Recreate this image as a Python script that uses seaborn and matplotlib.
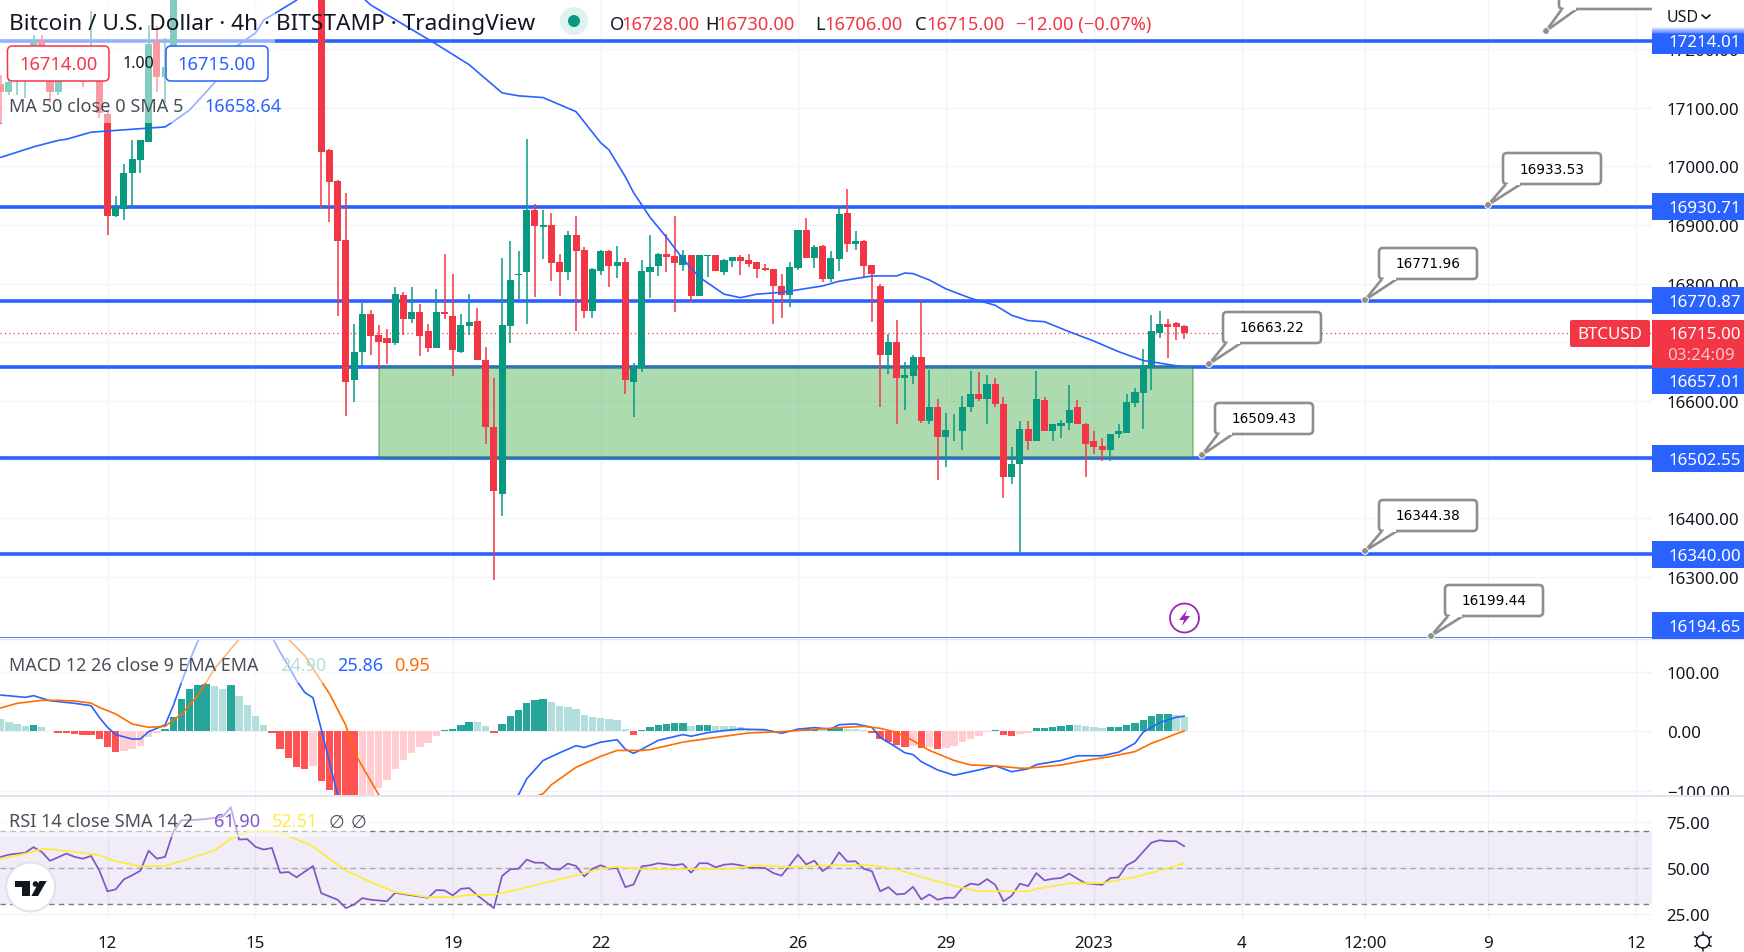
import numpy as np
import matplotlib
matplotlib.use("Agg")
import matplotlib.pyplot as plt
import seaborn as sns
from matplotlib.patches import Rectangle, FancyBboxPatch, Polygon, Circle

# bars are counted in 4h steps from Dec 12 00:00, bars 9-25 are above the visible range
bar_idx = list(range(-13, 9)) + list(range(26, 132))

opens = [17140, 17127, 17152, 17152, 17181, 17213, 17178, 17127, 17170, 17155, 17175, 17150, 17181,
         17089, 16915, 16927, 16988, 17011, 17042, 17213, 17152, 17205,
         17340, 17027, 16974, 16874, 16635, 16684, 16748, 16712, 16707, 16699,
         16780, 16740, 16752, 16719, 16691, 16752, 16745, 16684, 16728, 16736,
         16670, 16556, 16441, 16728, 16814, 16819, 16926, 16897, 16899, 16836,
         16819, 16882, 16857, 16753, 16821, 16855, 16830, 16836, 16633, 16656,
         16819, 16830, 16850, 16847, 16831, 16848, 16779, 16847, 16848, 16819,
         16838, 16845, 16840, 16836, 16826, 16825, 16796, 16780, 16826, 16892,
         16843, 16864, 16808, 16842, 16921, 16867, 16872, 16831, 16796, 16678,
         16701, 16639, 16643, 16675, 16566, 16589, 16539, 16548, 16549, 16589,
         16612, 16604, 16629, 16594, 16471, 16492, 16553, 16532, 16602, 16548,
         16558, 16563, 16589, 16561, 16531, 16524, 16517, 16543, 16546, 16597,
         16614, 16660, 16716, 16731, 16733, 16728]
highs = [17156, 17152, 17181, 17190, 17224, 17224, 17190, 17190, 17180, 17175, 17190, 17264, 17190,
         17095, 16950, 17003, 17044, 17044, 17241, 17239, 17218, 17400,
         17400, 17030, 16977, 16955, 16731, 16767, 16755, 16729, 16723, 16794,
         16785, 16794, 16765, 16731, 16791, 16850, 16816, 16748, 16782, 16758,
         16692, 16639, 16843, 16872, 16855, 17047, 16935, 16925, 16920, 16850,
         16889, 16916, 16862, 16826, 16857, 16857, 16864, 16843, 16665, 16840,
         16882, 16852, 16884, 16916, 16858, 16848, 16848, 16848, 16848, 16842,
         16845, 16848, 16850, 16836, 16833, 16825, 16816, 16836, 16891, 16911,
         16865, 16865, 16855, 16933, 16962, 16889, 16874, 16831, 16799, 16714,
         16738, 16667, 16678, 16772, 16653, 16604, 16580, 16577, 16609, 16651,
         16650, 16645, 16639, 16606, 16522, 16566, 16566, 16651, 16607, 16560,
         16568, 16628, 16602, 16563, 16548, 16536, 16544, 16561, 16612, 16622,
         16689, 16746, 16753, 16740, 16735, 16730]
lows = [17072, 17122, 17122, 17117, 17169, 17169, 17110, 17122, 17150, 17145, 17135, 17145, 17083,
        16882, 16913, 16909, 16928, 16989, 17042, 17127, 17108, 17205,
        16929, 16905, 16744, 16574, 16598, 16660, 16679, 16655, 16663, 16696,
        16713, 16732, 16677, 16684, 16691, 16740, 16642, 16681, 16713, 16669,
        16526, 16295, 16404, 16699, 16774, 16731, 16777, 16842, 16804, 16779,
        16806, 16719, 16741, 16741, 16814, 16794, 16809, 16612, 16572, 16650,
        16775, 16813, 16819, 16752, 16821, 16768, 16779, 16811, 16821, 16814,
        16828, 16814, 16828, 16809, 16821, 16731, 16741, 16760, 16823, 16843,
        16826, 16802, 16802, 16821, 16853, 16858, 16811, 16735, 16589, 16646,
        16560, 16585, 16629, 16563, 16560, 16466, 16487, 16532, 16517, 16582,
        16600, 16560, 16590, 16434, 16458, 16341, 16516, 16532, 16548, 16532,
        16536, 16551, 16560, 16471, 16509, 16497, 16498, 16536, 16546, 16590,
        16553, 16619, 16707, 16673, 16704, 16706]
closes = [17127, 17144, 17169, 17181, 17213, 17181, 17127, 17170, 17155, 17165, 17150, 17195, 17091,
          16915, 16928, 16989, 17013, 17044, 17208, 17152, 17169, 17340,
          17025, 16973, 16873, 16633, 16684, 16748, 16711, 16701, 16699, 16782,
          16740, 16752, 16711, 16691, 16752, 16749, 16686, 16729, 16735, 16669,
          16556, 16446, 16729, 16806, 16816, 16926, 16898, 16899, 16835, 16819,
          16882, 16855, 16753, 16825, 16855, 16830, 16836, 16635, 16658, 16821,
          16828, 16850, 16845, 16835, 16848, 16779, 16848, 16848, 16821, 16840,
          16845, 16838, 16833, 16825, 16823, 16796, 16780, 16828, 16891, 16843,
          16862, 16808, 16843, 16918, 16867, 16872, 16830, 16816, 16678, 16701,
          16639, 16645, 16675, 16565, 16590, 16539, 16551, 16549, 16590, 16612,
          16604, 16629, 16594, 16470, 16493, 16553, 16532, 16604, 16548, 16560,
          16563, 16585, 16560, 16527, 16521, 16517, 16544, 16548, 16599, 16616,
          16661, 16719, 16731, 16726, 16726, 16715]

ma_bar = [-13, -9, -6, -5, -2, -1, 3, 7, 8, 10, 13, 15, 18, 19, 23, 27, 32, 40, 44, 48, 50, 53, 57, 60, 61,
          63, 64, 66, 68, 70, 72, 75, 77, 79, 82, 87, 89, 93, 96, 97, 98, 100, 102, 105, 108, 110, 112,
          114, 117, 120, 123, 126, 130, 131]
ma_val = [17015, 17033, 17044, 17046, 17058, 17059, 17063, 17067, 17076, 17096, 17142, 17198, 17227, 17249,
          17283, 17340, 17275, 17208, 17173, 17125, 17120, 17117, 17093, 17040, 17028,
          16982, 16955, 16913, 16879, 16842, 16811, 16782, 16776, 16782, 16785, 16796, 16804, 16813, 16813,
          16818, 16817, 16806, 16791, 16775, 16763, 16746, 16737, 16735, 16718, 16702, 16684, 16669, 16660,
          16658.64]

levels = [17214.01, 16930.71, 16770.87, 16657.01, 16502.55, 16340.00, 16194.65]
price_ticks = [16300, 16400, 16500, 16600, 16700, 16800, 16900, 17000, 17100, 17200]
# 16500 and 16700 sit fully behind the price tags
price_labels = ["16300.00", "16400.00", "", "16600.00", "", "16800.00", "16900.00", "17000.00", "17100.00", "17200.00"]
last_price = 16715.00

# one bar per step from -13 to 131
macd_hist = [21, 15.5, 12.7, 8.7, 11, 7, 1, -3, -3, -4, -6, -6, -13,
             -26, -35, -33, -30, -25, -10, -3, 4, 24, 55,
             72, 79, 81, 77, 72, 79, 60, 45, 26, 11,
             -3, -30, -45, -60, -63, -58, -84, -99, -115, -125,
             -130, -128, -112, -95, -82, -63, -48, -36, -26, -19,
             -8, 2.5, 4, 11, 16, 15.5, 9, -3, 13, 26,
             36, 48, 53, 55, 50, 43, 41, 38, 28, 24,
             23, 21, 19, 4, -6, 2.5, 8, 11, 13, 14,
             14, 9, 11, 11, 10, 9.5, 9, 8, 4, 3,
             2.5, 1.5, 1.2, 1, 3, 4, 5, 2, 5, 8,
             5, 4, 2.5, -3, -13, -18, -23, -26, -24, -28,
             -27, -30, -28, -24, -18, -13, -8, -1, 2.5, -6,
             -8, -4, -3, 6, 6, 8, 9, 11, 10.5, 9,
             8, 6, 8, 8, 11, 14, 19, 26, 30, 30, 28, 24.9]

macd_bar = [-13, -10, -9, -7, -4, -2, -1, 0, 1, 3, 4, 5, 7, 8, 9, 10, 11, 12, 13, 15, 18, 20, 21, 22, 23, 24,
            25, 26, 27, 28, 30, 35, 45, 48, 49, 50, 51, 53, 55, 57, 58, 60, 62, 63, 64, 65, 67, 70, 71, 73,
            75, 77, 80, 82, 84, 86, 88, 89, 91, 93, 94, 96, 97, 98, 99, 101, 103, 106, 108, 110, 112, 113,
            116, 118, 121, 123, 125, 126, 128, 130, 131]
macd_val = [61.6, 57.7, 60.5, 52, 47.6, 43.6, 23.9, 7, -5.3, -12.7, -12.7, -0.3, 11, 43.6, 83, 120, 153, 170,
            190, 210, 195, 160, 134, 111, 86, 66, 57, 4, -52, -107, -150, -200, -190, -130, -118, -107, -80,
            -49, -36, -24, -27, -18, -14, -30, -37, -30, -15, -5.3, -8, -2, 1.4, 4, 3, -3, 4, 6.5, 4, 11.5,
            12.7, 7, -10, -27, -36, -39, -51, -65, -74, -65, -58, -68, -63, -56, -49, -41, -41, -35, -20, -1,
            15, 24, 25.86]
signal_bar = [-13, -11, -8, -6, -4, -2, -1, 1, 3, 5, 7, 9, 11, 13, 16, 18, 20, 22, 24, 26, 27, 29, 30, 33, 34,
              40, 48, 50, 52, 53, 54, 57, 60, 62, 65, 66, 70, 74, 78, 82, 85, 89, 92, 94, 96, 98, 100, 103,
              105, 108, 111, 112, 116, 119, 122, 125, 127, 128, 130, 131]
signal_val = [39.7, 47.6, 52.6, 52.6, 51.5, 48, 40.8, 29.6, 12.7, 7, 8.7, 29.6, 60.5, 105.6, 156, 175, 180, 156,
              128, 85, 64, 10, -35, -107, -125, -180, -150, -125, -110, -105, -90, -60.5, -42, -32, -32, -30.7,
              -18, -10, -2.5, -0.3, 2.5, 6.5, 8.7, 5.4, -1.4, -15.5, -32, -49, -56.6, -58, -62, -62, -56.6,
              -49, -42.5, -34, -20, -15, -4, 0.95]

rsi_bar = [-13, -12, -10, -9, -8, -7, -5, -4, -3, -2, -1, 0, 1, 2, 3, 4, 5, 6, 7, 8, 9, 10, 12, 14, 15, 16, 17,
           18, 19, 20, 21, 22, 23, 25, 26, 28, 29, 30, 31, 32, 34, 35, 37, 39, 40, 41, 42, 43, 44, 45, 47, 48,
           49, 50, 51, 52, 53, 54, 55, 56, 57, 58, 59, 60, 61, 62, 63, 64, 65, 66, 67, 69, 70, 71, 72, 73, 74,
           75, 76, 77, 78, 80, 81, 82, 84, 85, 86, 87, 88, 89, 90, 91, 92, 93, 94, 95, 96, 97, 98, 99, 100,
           101, 102, 103, 104, 105, 106, 107, 108, 109, 110, 111, 112, 113, 114, 115, 116, 117, 118, 119, 121,
           122, 123, 124, 125, 127, 128, 129, 130, 131]
rsi_val = [56.1, 57.3, 58.4, 61.4, 58.8, 53.9, 57.9, 56.1, 55.1, 56.6, 48.7, 37.2, 38.3, 43.8, 46, 48.5, 59.5,
           55.1, 56.1, 69.8, 76.2, 76.2, 76.8, 78.1, 83.2, 65.6, 65.8, 61.6, 60.1, 61, 47.4, 47.8, 44.9, 51.1,
           36.2, 32.6, 28, 30, 33.5, 32.6, 31.8, 36.4, 35, 33.7, 37.9, 37.7, 35, 38.6, 39, 35, 28, 45.6, 49.3,
           49.6, 54.6, 52.9, 52.9, 49.6, 49.1, 52.4, 51.1, 45.4, 49.6, 51.5, 49.6, 50, 39.5, 41, 50.9, 51.5,
           52.6, 51.5, 52.2, 47.4, 52.6, 52.6, 50.4, 51.8, 52.2, 51.5, 50.2, 50, 47.2, 45.8, 57.3, 52, 54, 48.3,
           51.5, 58.6, 53.5, 53.7, 49.6, 48.2, 37.2, 39.5, 35.5, 35.9, 39.7, 32.8, 35.5, 32.6, 33.7, 33.7, 39,
           41.4, 40.8, 43.9, 40.8, 31.8, 34.8, 41.4, 40.1, 47.2, 43.2, 44.1, 44.5, 46.9, 44.1, 41.6, 40.8, 44.5,
           44.9, 51.5, 53.9, 63.9, 65.2, 64.7, 64.7, 61.9]
rsima_bar = [-13, -10, -8, -7, -4, -1, 1, 4, 7, 10, 13, 15, 17, 20, 22, 25, 27, 29, 32, 35, 39, 42, 44, 47, 49,
             53, 55, 57, 60, 62, 65, 69, 76, 79, 83, 88, 93, 96, 100, 103, 106, 109, 112, 113, 117, 121, 125,
             128, 131]
rsima_val = [55.1, 57.9, 60.3, 60.3, 58.8, 57, 53.7, 50.9, 51.1, 55.1, 59.7, 66.1, 69.8, 70.2, 67.6, 61.9, 55.1,
             48.7, 42.3, 36.8, 34, 34, 35.3, 35.3, 37.3, 41.7, 43.8, 46, 49.6, 50.6, 49.3, 49.3, 49.6, 51.5, 50.6,
             51.5, 51.5, 49.3, 43.8, 40.1, 37.3, 37.3, 37.3, 38.6, 41.6, 41.7, 45, 48.7, 52.51]

time_ticks = [0, 18, 42, 60, 84, 102, 120, 138, 153, 168, 186]
time_labels = ["12", "15", "19", "22", "26", "29", "2023", "4", "12:00", "9", "12"]

# name, anchor x/y, box left/top in image pixels
callouts = [("16933.53", 1488, 206, 1503, 154), ("16771.96", 1365, 301, 1379, 249),
            ("16663.22", 1209, 365, 1223, 313), ("16509.43", 1202, 456, 1215, 404),
            ("16344.38", 1365, 552, 1379, 501), ("16199.44", 1431, 637, 1445, 586)]
# text, centre y, top, bottom
level_tags = [("16930.71", 207.5, 194, 221), ("16770.87", 301.5, 288, 315), ("16657.01", 382, 369, 395),
              ("16502.55", 459.5, 446, 473), ("16340.00", 555.5, 542, 569), ("16194.65", 627, 613, 640)]

RED = "#f23645"
GREEN = "#089981"
BLUE = "#2962ff"
GRID = "#f0f3fa"
TEXT = "#131722"
W, H = 1744, 953

sns.set_theme(style="white")
plt.rcParams["font.family"] = ["Noto Sans", "DejaVu Sans"]
plt.rcParams["axes.unicode_minus"] = True

fig = plt.figure(figsize=(W / 100, H / 100), dpi=100)


def pane(top, bottom):
    a = fig.add_axes([0, 1 - bottom / H, 1652 / W, (bottom - top) / H])
    a.set_xlim(-13.08, 187.9)
    for s in a.spines.values():
        s.set_visible(False)
    a.yaxis.tick_right()
    a.set_xticks(time_ticks)
    a.grid(True, color=GRID, linewidth=1.0)
    a.set_axisbelow(True)
    a.tick_params(axis="y", length=0, pad=10.6, labelsize=12.2, labelcolor=TEXT)
    a.tick_params(axis="x", length=0, labelbottom=False)
    return a


ax = pane(0, 639)
ax_macd = pane(640, 796)
ax_rsi = pane(797, 920)

# main pane
ax.set_ylim(16196, 17285)
ax.set_yticks(price_ticks)
ax.set_yticklabels(price_labels)
for lvl in levels:
    ax.axhline(lvl, color=BLUE, linewidth=2.6, zorder=1.5)
ax.axhline(last_price, color=RED, linewidth=0.9, linestyle=(0, (1, 2.5)), zorder=1.6)
ax.add_patch(Rectangle((33, 16502.55), 99, 16657.01 - 16502.55, facecolor="#4caf50", alpha=0.45,
                       edgecolor="#2e7d32", linewidth=1.2, zorder=2))

o = np.array(opens, float)
c = np.array(closes, float)
colors = [GREEN if b >= a else RED for a, b in zip(o, c)]
ax.vlines(bar_idx, lows, highs, colors=colors, linewidth=1.1, zorder=3)
ax.bar(bar_idx, np.maximum(np.abs(c - o), 1.5), bottom=np.minimum(o, c), width=0.86, color=colors,
       linewidth=0, zorder=3)
sns.lineplot(x=ma_bar, y=ma_val, ax=ax, color=BLUE, linewidth=1.2, zorder=4)

# macd pane
macd_ticks = [-100, 0, 100]
ax_macd.set_yticks(macd_ticks)
ax_macd.set_yticklabels(["\u2212100.00", "0.00", "100.00"])
hist_x = np.arange(-13, 132)
hist_colors = []
for k, h in enumerate(macd_hist):
    prev = macd_hist[k - 1] if k else h + 1 if h > 0 else h - 1
    if h >= 0:
        hist_colors.append("#26a69a" if h >= prev else "#b2dfdb")
    else:
        hist_colors.append("#ff5252" if h <= prev else "#ffcdd2")
ax_macd.bar(hist_x, macd_hist, width=0.9, color=hist_colors, linewidth=0, zorder=2)
sns.lineplot(x=macd_bar, y=macd_val, ax=ax_macd, color=BLUE, linewidth=1.2, zorder=3)
sns.lineplot(x=signal_bar, y=signal_val, ax=ax_macd, color="#ff6d00", linewidth=1.2, zorder=3)
ax_macd.set_ylim(-107.3, 156.25)

# rsi pane
rsi_ticks = [25, 50, 75]
ax_rsi.set_yticks(rsi_ticks)
ax_rsi.set_yticklabels([f"{t:.2f}" for t in rsi_ticks])
ax_rsi.axhspan(30, 70, color="#7e57c2", alpha=0.11, linewidth=0, zorder=1)
for lim, al in [(70, 1), (50, 0.55), (30, 1)]:
    ax_rsi.axhline(lim, color="#787b86", linewidth=1.0, linestyle=(0, (4, 3)), alpha=al, zorder=1.5)
sns.lineplot(x=rsi_bar, y=rsi_val, ax=ax_rsi, color="#7e57c2", linewidth=1.25, zorder=3)
sns.lineplot(x=rsima_bar, y=rsima_val, ax=ax_rsi, color="#ffeb3b", linewidth=1.25, zorder=3)
ax_rsi.set_ylim(22.05, 89.45)
ax_rsi.set_xticklabels(time_labels)
ax_rsi.tick_params(axis="x", labelbottom=True, pad=11.5, labelsize=12.2, labelcolor=TEXT)
ax_rsi.get_xticklabels()[6].set_fontweight("bold")

# overlay in image pixels for legends, price tags and callouts
ov = fig.add_axes([0, 0, 1, 1], zorder=10)
ov.set_xlim(0, W)
ov.set_ylim(H, 0)
ov.axis("off")


def rect(x0, y0, x1, y1, color, alpha=1.0, zorder=1):
    ov.add_patch(Rectangle((x0, y0), x1 - x0, y1 - y0, facecolor=color, alpha=alpha, linewidth=0, zorder=zorder))


def label(x, y, s, color=TEXT, size=13, ha="left", **kw):
    # noto sans sits a little high when centred
    ov.text(x, y + 1.5, s, color=color, fontsize=size, ha=ha, va="center", zorder=8, **kw)


# washed out strips behind the legends
rect(0, 0, 275, 124, "white", 0.5)
rect(0, 641, 436, 684, "white", 0.5)
rect(0, 808, 369, 838, "white", 0.5)

# pane separators
ov.plot([0, W], [639.8, 639.8], color="#e0e3eb", linewidth=1.0, zorder=2)
ov.plot([0, W], [796.5, 796.5], color="#e0e3eb", linewidth=1.4, zorder=2)
rect(1652, 797.2, W, 812, "white", zorder=1.5)

label(9, 23, "Bitcoin / U.S. Dollar \u00b7 4h \u00b7 BITSTAMP \u00b7 TradingView", size=16.3)
ov.add_patch(Circle((574, 22), 14, facecolor="#e0f2ee", linewidth=0, zorder=3))
ov.add_patch(Circle((574, 22), 6, facecolor=GREEN, linewidth=0, zorder=4))
for letter, lx, val in [("O", 610, "16728.00"), ("H", 705, "16730.00"), ("L", 815, "16706.00"), ("C", 915, "16715.00")]:
    label(lx, 23.5, letter, size=13.2)
    label(lx + (11 if letter != "L" else 9), 23.5, val, color=RED, size=13.2)
label(1016, 23.5, "\u221212.00 (\u22120.07%)", color=RED, size=13.2)

for x0, x1, txt, col in [(7.5, 109, "16714.00", RED), (166, 268, "16715.00", BLUE)]:
    ov.add_patch(FancyBboxPatch((x0 + 3, 50), x1 - x0 - 6, 29, boxstyle="round,pad=3,rounding_size=5", facecolor="white",
                                edgecolor=col, linewidth=1.1, zorder=5))
    label((x0 + x1) / 2, 64, txt, color=col, size=13.2, ha="center")
label(123, 63, "1.00", size=11.5)
label(9, 105.5, "MA 50 close 0 SMA 5", color="#4a4e57", size=13)
label(204, 105.5, "16658.64", color=BLUE, size=13)

label(9, 665, "MACD 12 26 close 9 EMA EMA", color="#4a4e57", size=12.9)
label(280, 665, "24.90", color="#b2dfdb", size=13)
label(337.5, 665, "25.86", color=BLUE, size=13)
label(394, 665, "0.95", color="#ff6d00", size=13)

label(9, 821, "RSI 14 close SMA 14 2", color="#4a4e57", size=13)
label(214, 821, "61.90", color="#7e57c2", size=13)
label(271.7, 821, "52.51", color="#ffeb3b", size=13)
label(329, 821, "\u2205", color="#4a4e57", size=13)
label(351, 821, "\u2205", color="#4a4e57", size=13)

# tradingview badge
ov.add_patch(Circle((30.6, 888), 24.5, facecolor="white", edgecolor="#e0e3eb", linewidth=1.5, zorder=5))
ov.add_patch(Polygon([(14.5, 882), (30, 882), (30, 897), (22, 897), (22, 888), (14.5, 888)], facecolor=TEXT, linewidth=0, zorder=6))
ov.add_patch(Polygon([(39.5, 882), (46.7, 882), (38, 897), (31.4, 897)], facecolor=TEXT, linewidth=0, zorder=6))
ov.add_patch(Circle((35.5, 885), 2.8, facecolor=TEXT, linewidth=0, zorder=6))

# alert icon
ov.add_patch(Circle((1184.5, 619), 14.5, facecolor="white", edgecolor="#9c27b0", linewidth=1.3, zorder=5))
ov.add_patch(Polygon([(1187, 611), (1179, 621), (1184, 621), (1182, 627), (1190, 617), (1185, 617)], facecolor="#9c27b0",
                     linewidth=0, zorder=6))

# callouts
GREY = "#8e8e8e"


def callout(txt, ax_x, ax_y, left, top, width=98, height=31):
    ov.add_patch(FancyBboxPatch((left + 3, top + 3), width - 6, height - 6, boxstyle="round,pad=3,rounding_size=4",
                                facecolor="white", edgecolor=GREY, linewidth=1.9, zorder=5))
    b = top + height
    ov.add_patch(Polygon([(left + 3, b), (ax_x, ax_y), (left + 18, b)], closed=False, facecolor="white", edgecolor=GREY,
                         linewidth=1.9, zorder=5.1))
    ov.add_patch(Rectangle((left + 4.5, b - 2.5), 12, 3.5, facecolor="white", linewidth=0, zorder=5.2))
    ov.add_patch(Circle((ax_x, ax_y), 3.4, facecolor=GREY, edgecolor="white", linewidth=0.7, zorder=5.3))
    if txt:
        ov.text(left + width / 2, top + height / 2, txt, fontsize=9.8, family="DejaVu Sans", color="black",
                ha="center", va="center", zorder=6)


for item in callouts:
    callout(*item)
callout("", 1546, 32, 1559, -25, width=140, height=35)
rect(1652, 0, W, 28, "white", zorder=5.5)
label(1667, 16.5, "USD", size=11.5)
ov.plot([1702, 1706, 1710], [16, 19.5, 16], color=TEXT, linewidth=1.2, zorder=6)

# price tags
rect(1652, 36, W, 54.5, BLUE, zorder=6)
for k in range(10):
    rect(1652, 28 + k * 0.8, W, 28.8 + k * 0.8, BLUE, alpha=0.1 * (k + 1), zorder=6)
label(1668, 41.5, "17214.01", color="white", size=12.2, weight="bold")
for txt, yc, top, bottom in level_tags:
    rect(1652, top, W, bottom, BLUE, zorder=6)
    label(1668, yc, txt, color="white", size=12.2, weight="bold")

ov.add_patch(FancyBboxPatch((1572, 323), 76, 23, boxstyle="round,pad=2,rounding_size=2", facecolor=RED, linewidth=0, zorder=6))
label(1610, 334, "BTCUSD", color="white", size=12.2, ha="center", weight="bold")
rect(1652, 321, W, 369, RED, zorder=6)
label(1668, 334, "16715.00", color="white", size=12.2, weight="bold")
label(1667, 355, "03:24:09", color="#fbc4c9", size=12.2, weight="bold")

# settings gear
ov.add_patch(Circle((1703, 942.5), 6.5, facecolor="white", edgecolor=TEXT, linewidth=1.1, zorder=6))
for ang in np.deg2rad(np.arange(0, 360, 60) + 30):
    ov.plot([1703 + 6.5 * np.cos(ang), 1703 + 9.5 * np.cos(ang)], [942.5 + 6.5 * np.sin(ang), 942.5 + 9.5 * np.sin(ang)],
            color=TEXT, linewidth=1.1, zorder=6)

ov.set_xlim(0, W)
ov.set_ylim(H, 0)
fig.savefig("out.png", dpi=100)
